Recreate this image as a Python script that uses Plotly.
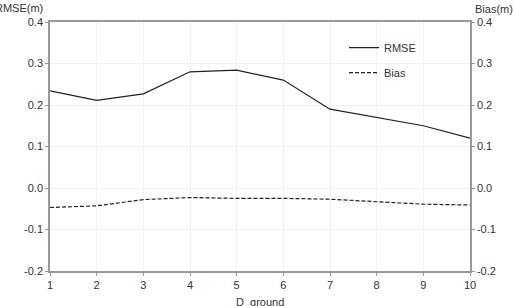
import plotly.graph_objects as go

d_ground = [1, 2, 3, 4, 5, 6, 7, 8, 9, 10]
rmse = [0.234, 0.211, 0.227, 0.280, 0.284, 0.260, 0.190, 0.170, 0.150, 0.120]
bias = [-0.047, -0.043, -0.028, -0.023, -0.025, -0.025, -0.027, -0.033, -0.039, -0.041]
y_ticks = [-0.2, -0.1, 0.0, 0.1, 0.2, 0.3, 0.4]
y_ticklabels = ["-0.2", "-0.1", "0.0", "0.1", "0.2", "0.3", "0.4"]

font = dict(family="Liberation Sans, Arial, sans-serif", size=11, color="#333333")

fig = go.Figure()
fig.add_trace(go.Scatter(x=d_ground, y=rmse, mode="lines", name="RMSE",
                         line=dict(color="#222222", width=1.2), legendgroup="a"))
fig.add_trace(go.Scatter(x=d_ground, y=bias, mode="lines", name="Bias", yaxis="y2",
                         line=dict(color="#222222", width=1.2, dash="4px,2px"), legendgroup="b"))

axis_common = dict(showline=True, linecolor="#999999", linewidth=1.5,
                   ticks="outside", ticklen=3, tickcolor="#999999",
                   showgrid=True, gridcolor="#f0f0f0", gridwidth=1,
                   zeroline=False, tickfont=font)

fig.update_layout(
    width=513, height=306,
    margin=dict(l=50, r=43, t=22, b=35),
    paper_bgcolor="white", plot_bgcolor="white",
    font=font,
    showlegend=True,
    legend=dict(x=0.70, y=0.955, xanchor="left", yanchor="top",
                bgcolor="rgba(0,0,0,0)", font=font, tracegroupgap=6,
                traceorder="grouped", itemwidth=30),
    xaxis=dict(range=[1, 10], tickvals=d_ground, mirror=True, **axis_common),
    yaxis=dict(range=[-0.2, 0.4], tickvals=y_ticks, ticktext=y_ticklabels, **axis_common),
    yaxis2=dict(range=[-0.2, 0.4], tickvals=y_ticks, ticktext=y_ticklabels,
                overlaying="y", side="right", showline=True, linecolor="#999999",
                linewidth=1.5, ticks="outside", ticklen=3, tickcolor="#999999",
                showgrid=False, zeroline=False, tickfont=font),
)

fig.add_annotation(text="RMSE(m)", xref="paper", yref="paper", x=-5 / 420, y=1.0,
                   xanchor="right", yanchor="bottom", yshift=6, showarrow=False, font=font)
fig.add_annotation(text="Bias(m)", xref="paper", yref="paper", x=1.0, y=1.0,
                   xanchor="left", yanchor="bottom", yshift=5, xshift=3, showarrow=False, font=font)
fig.add_annotation(text="D_ground", xref="paper", yref="paper", x=0.5, y=0,
                   xanchor="center", yanchor="top", yshift=-23, showarrow=False, font=font)

fig.write_html("out.html")
